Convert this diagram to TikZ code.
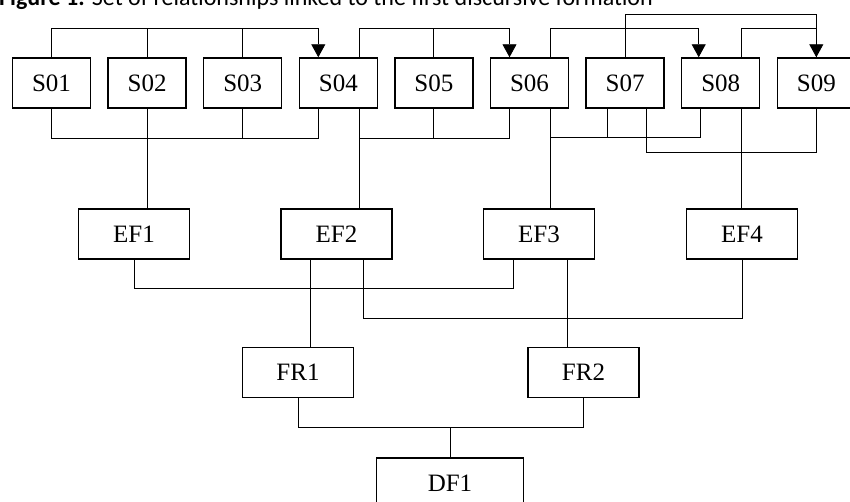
\documentclass[tikz,border=0pt]{standalone}
\usepackage{fontspec}
\setmainfont{Liberation Serif}
\newfontfamily\titlefont{Carlito}
\usetikzlibrary{arrows.meta}

\begin{document}
\begin{tikzpicture}[
      x=1pt, y=-1pt,
      box/.style={draw, line width=1.5pt, inner sep=0pt, minimum height=50pt,
        font=\fontsize{25}{25}\selectfont},
      sbox/.style={box, minimum width=78pt},
      efbox/.style={box, minimum width=111pt},
      link/.style={line width=0.9pt},
      arrow/.style={link, -{Triangle[length=13pt, width=14pt]}},
      caption/.style={anchor=base west, inner sep=0pt,
        font=\titlefont\fontsize{24}{24}\selectfont}]
    \useasboundingbox (0,0) rectangle (850,501);
    \node[caption] (title) at (-1,5.5)
      {\textbf{Figure 1.} Set of relationships linked to the first discursive formation};
    \foreach \i in {1,...,9}
      \node[sbox] (s0\i) at ({51.5+95.6*(\i-1)},83) {S0\i};
    \foreach \i/\x in {1/134, 2/336.5, 3/539, 4/742}
      \node[efbox] (ef\i) at (\x,234) {EF\i};
    \node[efbox] (fr1) at (298,372.5) {FR1};
    \node[efbox] (fr2) at (583.5,372.5) {FR2};
    \node[box, minimum width=147pt] (df1) at (450,483) {DF1};

    \draw[arrow] (s01.north) -- ++(0,-29) -| ([xshift=-20pt]s04.north);
    \draw[link] (s02.north) -- ++(0,-29) (s03.north) -- ++(0,-29);
    \draw[arrow] ([xshift=21pt]s04.north) -- ++(0,-29) -| ([xshift=-20pt]s06.north);
    \draw[link] (s05.north) -- ++(0,-29);
    \draw[arrow] ([xshift=21pt]s06.north) -- ++(0,-29) -| ([xshift=-22pt]s08.north);
    \draw[arrow] (s07.north) -- ++(0,-43) -| (s09.north);
    \draw[link] ([xshift=21pt]s08.north) -- ++(0,-29) -| (s09.north);

    \draw[link] (s01.south) -- ++(0,30) -| ([xshift=-20pt]s04.south);
    \draw[link] (s02.south) -- (s02.south |- ef1.north) (s03.south) -- ++(0,30);
    \draw[link] ([xshift=21pt]s04.south) -- ++(0,30) -| ([xshift=-20pt]s06.south);
    \draw[link] ([xshift=21pt]s04.south) -- ++(0,100) (s05.south) -- ++(0,30);
    \draw[link] ([xshift=21pt]s06.south) -- ++(0,29) -| ([xshift=-20pt]s08.south);
    \draw[link] ([xshift=21pt]s06.south) -- ++(0,100) ([xshift=-18pt]s07.south) -- ++(0,29);
    \draw[link] ([xshift=21pt]s07.south) -- ++(0,44) -| (s09.south);
    \draw[link] ([xshift=21pt]s08.south) -- ++(0,100);

    \draw[link] (ef1.south) -- ++(0,29) -| ([xshift=-26pt]ef3.south);
    \draw[link] ([xshift=-26.5pt]ef2.south) -- ++(0,87.5);
    \draw[link] ([xshift=26.5pt]ef2.south) -- ++(0,59) -| (ef4.south);
    \draw[link] ([xshift=28pt]ef3.south) -- ++(0,87.5);

    \draw[link] (fr1.south) -- ++(0,29.5) -| (fr2.south);
    \draw[link] (df1.north) -- ++(0,-30);
\end{tikzpicture}
\end{document}
